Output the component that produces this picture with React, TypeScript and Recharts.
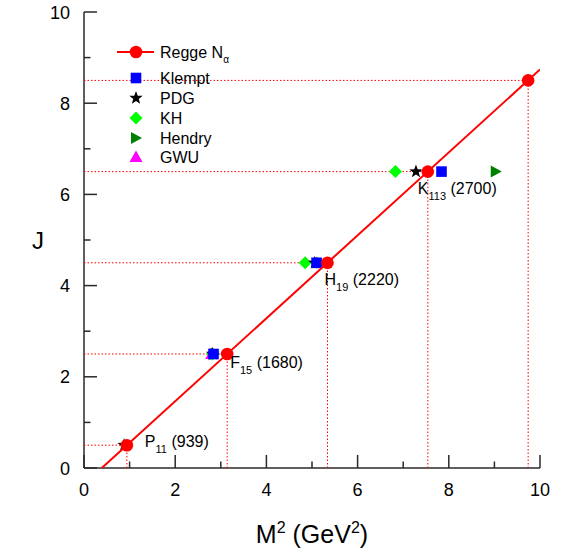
import React from "react";
import { ComposedChart, Scatter, XAxis, YAxis } from "recharts";

const FONT = "'Liberation Sans', Arial, sans-serif";

// Regge trajectory states (J, M^2 from the fit)
const J_VALUES = [0.5, 2.5, 4.5, 6.5, 8.5];
const REGGE_M2 = [0.94, 3.14, 5.34, 7.54, 9.74];
const REGGE_LINE_M2 = [0.39, 10];
const REGGE_LINE_J = [0, 8.74];

const STATE_NAMES = ["P", "F", "H", "K"];
const STATE_SUBS = ["11", "15", "19", "113"];
const STATE_MASSES = ["939", "1680", "2220", "2700"];

// experimental values
const KLEMPT_J = [2.5, 4.5, 6.5];
const KLEMPT_M2 = [2.84, 5.1, 7.84];
const PDG_J = [0.5, 2.5, 4.5, 6.5];
const PDG_M2 = [0.88, 2.82, 5.06, 7.28];
const KH_J = [2.5, 4.5, 6.5];
const KH_M2 = [2.82, 4.85, 6.83];
const HENDRY_J = [2.5, 4.5, 6.5];
const HENDRY_M2 = [2.86, 5.2, 9.03];
const GWU_J = [2.5];
const GWU_M2 = [2.8];

const TICKS = [0, 1, 2, 3, 4, 5, 6, 7, 8, 9, 10];

const pts = (xs: number[], ys: number[]) => xs.map((x, i) => ({ x, y: ys[i] }));

const reggeData = REGGE_M2.map((x, i) => ({
  x,
  y: J_VALUES[i],
  name: STATE_NAMES[i],
  sub: STATE_SUBS[i],
  mass: STATE_MASSES[i],
}));

// label offsets in px from circle centre: [dx, dy baseline]
const LABEL_OFFSETS = [
  [18, 2],
  [3, 14],
  [-3, 22],
  [-10, 22],
];

const circle = (cx: number, cy: number) => <circle cx={cx} cy={cy} r={6.3} fill="#ff0000" />;
const square = (cx: number, cy: number) => (
  <rect x={cx - 5.3} y={cy - 5.3} width={10.6} height={10.6} fill="#0000ff" />
);
const star = (cx: number, cy: number) => {
  const p: string[] = [];
  for (let k = 0; k < 10; k++) {
    const r = k % 2 === 0 ? 7 : 2.9;
    const a = -Math.PI / 2 + (k * Math.PI) / 5;
    p.push(`${cx + r * Math.cos(a)},${cy + r * Math.sin(a)}`);
  }
  return <polygon points={p.join(" ")} fill="#000" />;
};
const diamond = (cx: number, cy: number) => (
  <polygon
    points={`${cx},${cy - 6.5} ${cx + 6.5},${cy} ${cx},${cy + 6.5} ${cx - 6.5},${cy}`}
    fill="#00ff00"
  />
);
const rightTri = (cx: number, cy: number) => (
  <polygon points={`${cx - 5},${cy - 6} ${cx + 6},${cy} ${cx - 5},${cy + 6}`} fill="#008000" />
);
const upTri = (cx: number, cy: number) => (
  <polygon points={`${cx},${cy - 6.5} ${cx + 6.5},${cy + 5} ${cx - 6.5},${cy + 5}`} fill="#ff00ff" />
);

const mk = (fn: (cx: number, cy: number) => React.ReactElement) => (props: any) =>
  fn(props.cx, props.cy);

const empty = () => <g />;

const AXIS = "#2a2a2a";

const BottomTick = (props: any) => {
  const { x, y, payload } = props;
  const v = payload.value;
  const major = v % 2 === 0;
  return (
    <g>
      <line x1={x} x2={x} y1={y} y2={y - (major ? 13 : 6.5)} stroke={AXIS} strokeWidth={1.5} />
      {major && (
        <text x={x} y={y + 28} textAnchor="middle" fontSize={18} fontFamily={FONT} fill="#000">
          {v}
        </text>
      )}
    </g>
  );
};

const TopTick = (props: any) => {
  const { x, y, payload } = props;
  const major = payload.value % 2 === 0;
  return <line x1={x} x2={x} y1={y} y2={y + (major ? 13 : 6.5)} stroke={AXIS} strokeWidth={1.5} />;
};

const LeftTick = (props: any) => {
  const { x, y, payload } = props;
  const v = payload.value;
  const major = v % 2 === 0;
  return (
    <g>
      <line x1={x} x2={x + (major ? 13 : 6.5)} y1={y} y2={y} stroke={AXIS} strokeWidth={1.5} />
      {major && (
        <text x={x - 14} y={y + 6.5} textAnchor="end" fontSize={18} fontFamily={FONT} fill="#000">
          {v}
        </text>
      )}
    </g>
  );
};

const RightTick = (props: any) => {
  const { x, y, payload } = props;
  const major = payload.value % 2 === 0;
  return <line x1={x} x2={x - (major ? 13 : 6.5)} y1={y} y2={y} stroke={AXIS} strokeWidth={1.5} />;
};

const StateLabel = (props: any) => {
  const { cx, cy, payload, index } = props;
  if (!payload.name) return <g />;
  const [dx, dy] = LABEL_OFFSETS[index] || [0, 0];
  return (
    <text x={cx + dx} y={cy + dy} fontSize={16} fontFamily={FONT} fill="#000">
      <tspan>{payload.name}</tspan>
      <tspan fontSize={11} dy={6}>
        {payload.sub}
      </tspan>
      <tspan dy={-6}> ({payload.mass})</tspan>
    </text>
  );
};

const dotted = { stroke: "#ff0000", strokeWidth: 1, strokeDasharray: "1.5 2" };

const LEGEND_ITEMS = [
  { label: "Klempt", fn: square, y: 78 },
  { label: "PDG", fn: star, y: 98 },
  { label: "KH", fn: diamond, y: 118 },
  { label: "Hendry", fn: rightTri, y: 138 },
  { label: "GWU", fn: upTri, y: 157 },
];

function ReggeLegend() {
  return (
    <svg
      width={280}
      height={180}
      style={{ position: "absolute", left: 0, top: 0, pointerEvents: "none" }}
    >
      <line x1={117} x2={154} y1={52} y2={52} stroke="#ff0000" strokeWidth={2} />
      {circle(136, 52)}
      <text x={160} y={58} fontSize={16} fontFamily={FONT} fill="#000">
        Regge N
        <tspan fontSize={10} dy={5}>
          α
        </tspan>
      </text>
      {LEGEND_ITEMS.map((it) => (
        <g key={it.label}>
          {it.fn(136, it.y)}
          <text x={160} y={it.y + 6} fontSize={16} fontFamily={FONT} fill="#000">
            {it.label}
          </text>
        </g>
      ))}
    </svg>
  );
}

export default function App() {
  return (
    <div style={{ position: "absolute", left: 0, top: 0, width: 562, height: 552, background: "#fff" }}>
      <ComposedChart width={562} height={552} margin={{ top: 12, right: 22, bottom: 44, left: 24 }}>
        <XAxis
          xAxisId={0}
          type="number"
          dataKey="x"
          domain={[0, 10]}
          ticks={TICKS}
          allowDataOverflow
          tickSize={0}
          tickMargin={0}
          tickLine={false}
          tick={BottomTick}
          height={40}
          axisLine={{ stroke: AXIS, strokeWidth: 1.5 }}
          label={{
            content: (p: any) => {
              const vb = p.viewBox;
              return (
                <text
                  x={vb.x + vb.width / 2}
                  y={vb.y + 75}
                  textAnchor="middle"
                  fontSize={25}
                  fontFamily={FONT}
                  fill="#000"
                >
                  M<tspan fontSize={16} dy={-10}>2</tspan>
                  <tspan dy={10}> (GeV</tspan>
                  <tspan fontSize={16} dy={-10}>2</tspan>
                  <tspan dy={10}>)</tspan>
                </text>
              );
            },
          }}
        />
        <XAxis
          xAxisId="top"
          orientation="top"
          type="number"
          dataKey="x"
          domain={[0, 10]}
          ticks={TICKS}
          allowDataOverflow
          tickSize={0}
          tickMargin={0}
          tickLine={false}
          tick={TopTick}
          height={0}
          axisLine={{ stroke: AXIS, strokeWidth: 1.5 }}
        />
        <YAxis
          yAxisId={0}
          type="number"
          dataKey="y"
          domain={[0, 10]}
          ticks={TICKS}
          allowDataOverflow
          tickSize={0}
          tickMargin={0}
          tickLine={false}
          tick={LeftTick}
          width={60}
          axisLine={{ stroke: AXIS, strokeWidth: 1.5 }}
          label={{
            content: (p: any) => {
              const vb = p.viewBox;
              return (
                <text
                  x={vb.x + 14}
                  y={vb.y + vb.height / 2 + 9}
                  textAnchor="middle"
                  fontSize={24}
                  fontFamily={FONT}
                  fill="#000"
                >
                  J
                </text>
              );
            },
          }}
        />
        <YAxis
          yAxisId="right"
          orientation="right"
          type="number"
          dataKey="y"
          domain={[0, 10]}
          ticks={TICKS}
          allowDataOverflow
          tickSize={0}
          tickMargin={0}
          tickLine={false}
          tick={RightTick}
          width={0}
          axisLine={{ stroke: AXIS, strokeWidth: 1.5 }}
        />

        {J_VALUES.map((j, i) => (
          <Scatter
            key={`h${i}`}
            data={[
              { x: 0, y: j },
              { x: REGGE_M2[i], y: j },
            ]}
            line={dotted}
            shape={empty}
            isAnimationActive={false}
          />
        ))}
        {J_VALUES.map((j, i) => (
          <Scatter
            key={`v${i}`}
            data={[
              { x: REGGE_M2[i], y: 0 },
              { x: REGGE_M2[i], y: j },
            ]}
            line={dotted}
            shape={empty}
            isAnimationActive={false}
          />
        ))}

        <Scatter data={pts(KH_M2, KH_J)} shape={mk(diamond)} isAnimationActive={false} />
        <Scatter data={pts(HENDRY_M2, HENDRY_J)} shape={mk(rightTri)} isAnimationActive={false} />
        <Scatter data={pts(GWU_M2, GWU_J)} shape={mk(upTri)} isAnimationActive={false} />
        <Scatter data={pts(PDG_M2, PDG_J)} shape={mk(star)} isAnimationActive={false} />
        <Scatter data={pts(KLEMPT_M2, KLEMPT_J)} shape={mk(square)} isAnimationActive={false} />

        <Scatter
          data={pts(REGGE_LINE_M2, REGGE_LINE_J)}
          line={{ stroke: "#ff0000", strokeWidth: 2 }}
          shape={empty}
          isAnimationActive={false}
        />
        <Scatter data={reggeData} shape={mk(circle)} isAnimationActive={false} />
        <Scatter data={reggeData} shape={StateLabel} isAnimationActive={false} />
      </ComposedChart>
      <ReggeLegend />
    </div>
  );
}
